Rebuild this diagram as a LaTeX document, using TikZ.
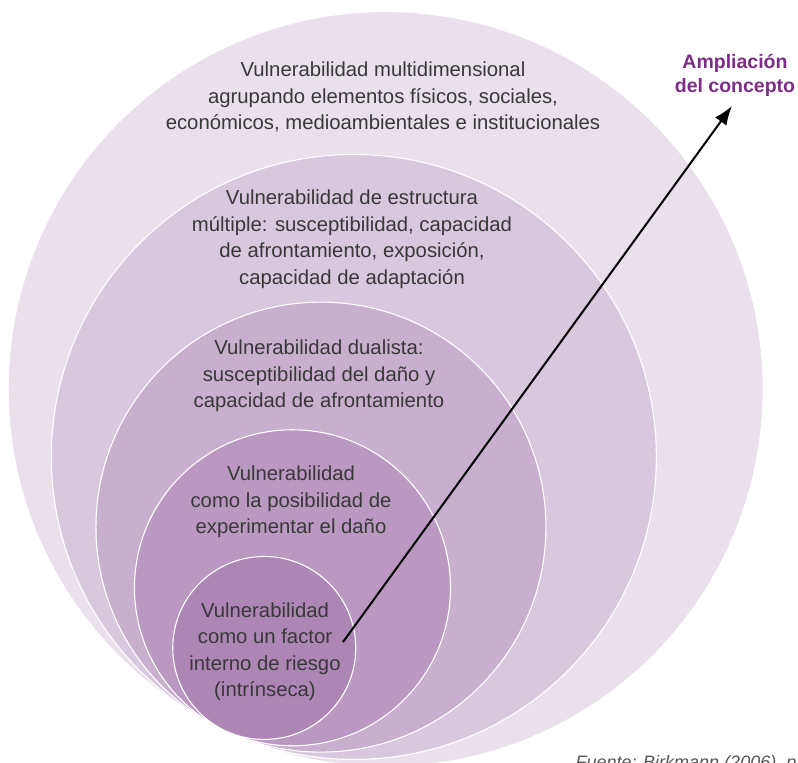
\documentclass[tikz,border=0pt]{standalone}
\usepackage{fontspec}
\setmainfont{Liberation Sans}
\usepackage{tikz}
\usetikzlibrary{arrows.meta}

\definecolor{ringA}{HTML}{E9E0EC}
\definecolor{ringB}{HTML}{D8C8DE}
\definecolor{ringC}{HTML}{C8AFCD}
\definecolor{ringD}{HTML}{BA98C2}
\definecolor{ringE}{HTML}{AD86B5}
\definecolor{texto}{HTML}{383838}
\definecolor{morado}{HTML}{7E2C87}

\begin{document}
\begin{tikzpicture}[x=1pt,y=-1pt,
  ring/.style={draw=white,line width=1.1pt},
  lbl/.style={text=texto,align=center,font=\fontsize{20.3}{26.5}\selectfont}]

% Page frame
\useasboundingbox (0,0) rectangle (798,763);

% Common tangent point of the circles
\def\tx{225.4}
\def\ty{730.8}

% Nested circles, largest first
\foreach \r/\col in {377.5/ringA,302.5/ringB,225/ringC,158/ringD,91.5/ringE}
  \fill[\col,ring] ({\tx+0.4246*\r},{\ty-0.9053*\r}) circle[radius=\r pt];

% Labels of the circles
\node[lbl] (multi) at (383,97)
  {Vulnerabilidad multidimensional\\agrupando elementos físicos, sociales,\\económicos, medioambientales e institucionales};
\node[lbl] (estructura) at (352,239)
  {Vulnerabilidad de estructura\\múltiple: susceptibilidad, capacidad\\de afrontamiento, exposición,\\capacidad de adaptación};
\node[lbl] (dual) at (319,376)
  {Vulnerabilidad dualista:\\susceptibilidad del daño y\\capacidad de afrontamiento};
\node[lbl] (posib) at (291,502)
  {Vulnerabilidad\\como la posibilidad de\\experimentar el daño};
\node[lbl] (factor) at (265,651.5)
  {Vulnerabilidad\\como un factor\\interno de riesgo\\(intrínseca)};

% Arrow of the widening concept
\node[text=morado,align=center,font=\fontsize{19.5}{24}\selectfont\bfseries] (ampl) at (735,75)
  {Ampliación\\del concepto};
\coordinate (start) at (343,642);
\coordinate (tip) at (732,106);
\draw[line width=2pt,-{Latex[length=19pt,width=14pt]}] (start) -- (tip);

% Source line, cut by the page edge
\node[anchor=base west,text=texto!85,font=\fontsize{18}{20}\selectfont\itshape] (fuente) at (572,768)
  {Fuente: Birkmann (2006), p.};

\end{tikzpicture}
\end{document}
